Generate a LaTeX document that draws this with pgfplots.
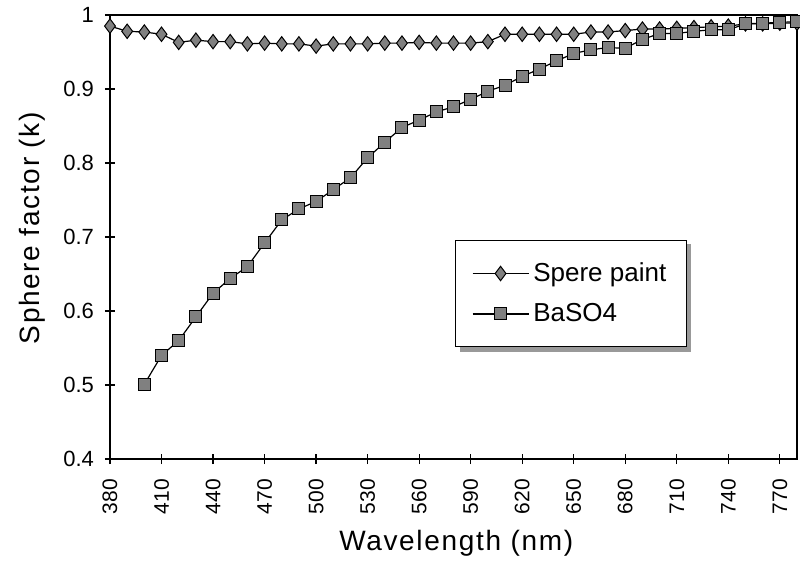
\documentclass[border=0pt]{standalone}
\usepackage{fontspec}
\setmainfont{Liberation Sans}
\usepackage{pgfplots}
\pgfplotsset{compat=1.18}
\usetikzlibrary{backgrounds}
\begin{document}
\begin{tikzpicture}
\useasboundingbox (0,0) rectangle (400pt,285pt);
\begin{axis}[
  at={(55pt,55.5pt)}, anchor=south west,
  scale only axis, width=343.5pt, height=222pt,
  xmin=380, xmax=780, ymin=0.4, ymax=1,
  xtick={380,410,440,470,500,530,560,590,620,650,680,710,740,770},
  ytick={0.4,0.5,0.6,0.7,0.8,0.9,1},
  xtick pos=bottom, ytick pos=left,
  tick align=center, major tick length=5pt,
  every tick/.style={black, line width=0.6pt},
  axis line style={black, line width=1.2pt},
  /pgf/number format/assume math mode=true,
  /pgf/number format/fixed,
  yticklabel style={font=\fontsize{11}{12}\selectfont, xshift=-2pt},
  xticklabel style={font=\fontsize{10.5}{12}\selectfont, rotate=90, anchor=east, xshift=-4pt, yshift=0pt},
  xlabel={Wavelength (nm)},
  ylabel={Sphere factor (k)},
  xlabel style={font=\fontsize{14}{16}\selectfont\addfontfeature{LetterSpace=6}, at={(axis description cs:0.504,0)}, anchor=north, yshift=-32pt},
  ylabel style={font=\fontsize{14}{16}\selectfont\addfontfeature{LetterSpace=6}, at={(axis description cs:0,0.52)}, anchor=center, yshift=39pt},
  clip=false,
  legend style={at={(axis cs:581,0.696)}, anchor=north west, draw=black, line width=0.6pt, fill=white,
    font=\fontsize{13}{15}\selectfont, inner xsep=8pt, inner ysep=9pt, row sep=5.5pt, name=leg},
  legend cell align=left,
  legend image code/.code={\draw[mark repeat=2,mark phase=2,#1,line width=0.75pt] plot coordinates {(0pt,0pt) (14pt,0pt) (28pt,0pt)};},
]
\addplot[black, line width=0.6pt, mark=diamond*, mark size=3.6pt,
  mark options={fill=gray, draw=black, line width=0.5pt, solid}] coordinates {
(380,0.985) (390,0.978) (400,0.977) (410,0.974) (420,0.963) (430,0.966)
(440,0.964) (450,0.964) (460,0.961) (470,0.962) (480,0.961) (490,0.961)
(500,0.958) (510,0.961) (520,0.961) (530,0.961) (540,0.962) (550,0.962)
(560,0.963) (570,0.962) (580,0.962) (590,0.962) (600,0.964) (610,0.974)
(620,0.974) (630,0.974) (640,0.974) (650,0.974) (660,0.977) (670,0.977)
(680,0.979) (690,0.981) (700,0.981) (710,0.982) (720,0.983) (730,0.984)
(740,0.985) (750,0.988) (760,0.988) (770,0.989) (780,0.989)
};
\addlegendentry{Spere paint\hspace{8pt}}
\addplot[black, line width=0.6pt, mark=square*, mark size=3pt,
  mark options={fill=gray, draw=black, line width=0.5pt, solid}] coordinates {
(400,0.501) (410,0.540) (420,0.560) (430,0.592) (440,0.624) (450,0.644)
(460,0.660) (470,0.692) (480,0.723) (490,0.738) (500,0.748) (510,0.764)
(520,0.780) (530,0.807) (540,0.828) (550,0.848) (560,0.858) (570,0.869)
(580,0.876) (590,0.886) (600,0.897) (610,0.905) (620,0.917) (630,0.927)
(640,0.938) (650,0.948) (660,0.953) (670,0.956) (680,0.955) (690,0.967)
(700,0.975) (710,0.975) (720,0.978) (730,0.980) (740,0.980) (750,0.988)
(760,0.989) (770,0.990) (780,0.991)
};
\addlegendentry{BaSO4}
\end{axis}
\begin{scope}[on background layer]
\fill[gray!80] ([shift={(2.2pt,-2.2pt)}]leg.south west) rectangle ([shift={(2.2pt,-2.2pt)}]leg.north east);
\end{scope}
\end{tikzpicture}
\end{document}
